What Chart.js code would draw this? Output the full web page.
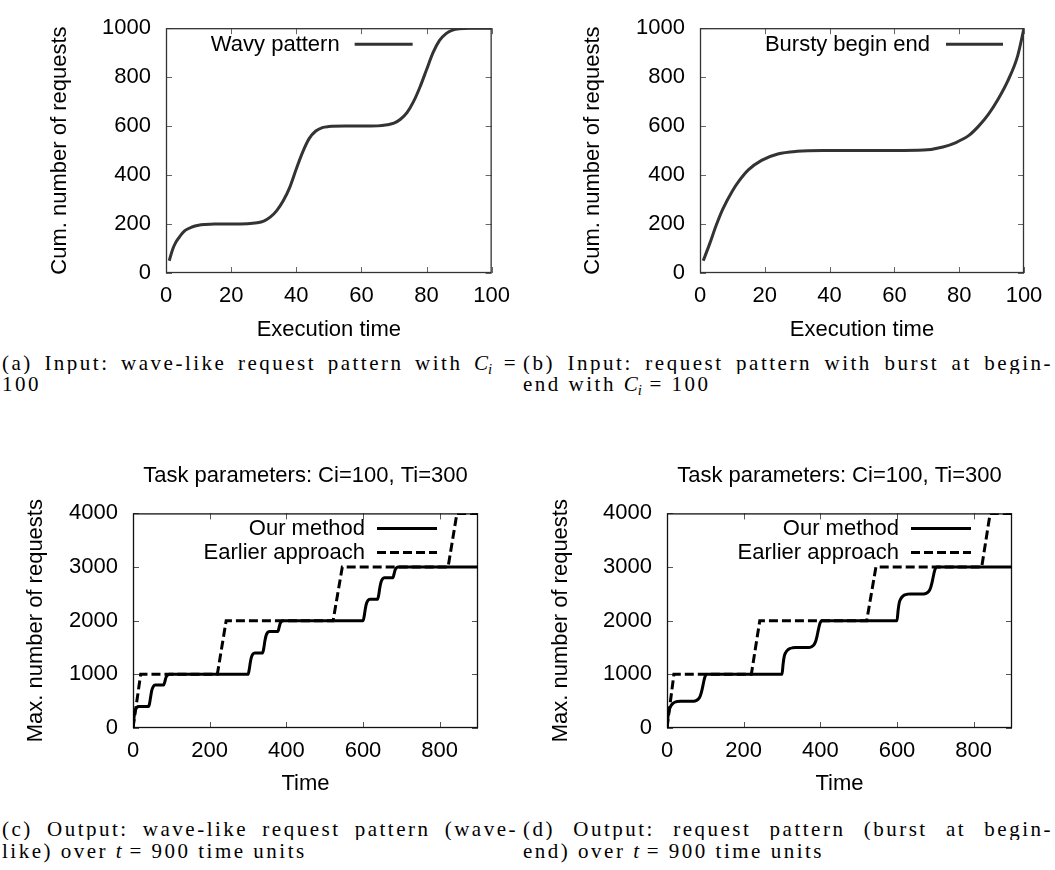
<!DOCTYPE html>
<html><head><meta charset="utf-8">
<script src="https://cdn.jsdelivr.net/npm/chart.js@4/dist/chart.umd.min.js"></script>
<style>
body{margin:0;background:#fff;width:1055px;height:870px;position:relative;overflow:hidden;}
canvas{position:absolute;}
.cap{position:absolute;font-family:"Liberation Serif","Times New Roman",serif;font-size:21px;line-height:22px;height:22px;color:#000;letter-spacing:2.5px;white-space:nowrap;}
.just{text-align:justify;text-align-last:justify;white-space:normal;overflow:hidden;}
.cap i{letter-spacing:0;}
.cap sub{font-size:70%;vertical-align:-0.3em;line-height:0;font-style:italic;}
</style></head><body>
<canvas id="ca" width="520" height="345" style="left:0;top:0;width:520px;height:345px"></canvas>
<canvas id="cb" width="528" height="345" style="left:527px;top:0;width:528px;height:345px"></canvas>
<canvas id="cc" width="520" height="365" style="left:0;top:440px;width:520px;height:365px"></canvas>
<canvas id="cd" width="528" height="365" style="left:527px;top:440px;width:528px;height:365px"></canvas>

<div class="cap just" style="left:2px;top:352px;width:516px">(a) Input: wave-like request pattern with <i>C<sub>i</sub></i> =</div>
<div class="cap" style="left:2px;top:373px">100</div>
<div class="cap just" style="left:523px;top:352px;width:530px">(b) Input: request pattern with burst at begin-</div>
<div class="cap" style="left:523px;top:373px">end with <i>C<sub>i</sub></i> = 100</div>
<div class="cap just" style="left:2px;top:818px;width:516px">(c) Output: wave-like request pattern (wave-</div>
<div class="cap" style="left:2px;top:840px">like) over <i>t</i> = 900 time units</div>
<div class="cap just" style="left:523px;top:818px;width:530px">(d) Output: request pattern (burst at begin-</div>
<div class="cap" style="left:523px;top:840px">end) over <i>t</i> = 900 time units</div>

<script>
// ---- data ----
const wavyTime = [1,2,3,4,5,6,8,10,12,15,20,25,28,30,32,34,36,38,40,42,44,46,48,50,55,60,65,68,70,72,74,76,78,80,82,84,86,88,90,93,96,100];
const wavyRequests = [50,95,125,145,162,175,188,195,198,200,200,201,205,212,228,255,295,350,425,495,550,580,594,598,600,600,601,606,612,628,655,700,760,830,900,950,978,992,998,1000,1000,1000];

const burstyTime = [1,3,5,7,10,12,15,19,24,30,38,50,60,69,75,79,83,86,89,92,95,98,100];
const burstyRequests = [50,120,195,260,335,375,422,460,486,497,500,500,500,502,515,533,562,600,648,710,785,885,1000];

const waveOurTime = [0,2,4,7,10,15,40,43,46,49,53,58,80,83,86,90,95,300,303,306,309,313,318,338,341,344,347,351,356,378,381,384,388,392,600,603,606,609,613,618,638,641,644,647,651,656,678,681,684,688,692,900];
const waveOurRequests = [0,150,270,350,385,400,400,450,580,700,775,800,800,860,940,985,1000,1000,1080,1220,1320,1380,1400,1400,1480,1620,1720,1780,1800,1800,1870,1950,1990,2000,2000,2080,2220,2320,2380,2400,2400,2480,2620,2720,2780,2800,2800,2870,2950,2990,3000,3000];
const waveEarlierTime = [0,20,220,243,522,546,822,845,900];
const waveEarlierRequests = [0,1000,1000,2000,2000,3000,3000,4000,4000];

const burstOurTime = [0,3,6,10,15,20,28,35,70,76,82,87,91,94,97,100,104,300,303,306,310,315,320,328,335,370,376,382,387,391,394,397,400,404,600,603,606,610,615,620,628,635,670,676,682,687,691,694,697,700,704,900];
const burstOurRequests = [0,230,340,410,455,480,495,500,500,510,540,600,700,800,900,970,1000,1000,1200,1340,1410,1455,1480,1495,1500,1500,1510,1540,1600,1700,1800,1900,1970,2000,2000,2200,2340,2410,2455,2480,2495,2500,2500,2510,2540,2600,2700,2800,2900,2970,3000,3000];
const burstEarlierTime = [0,18,220,242,521,545,821,843,900];
const burstEarlierRequests = [0,1000,1000,2000,2000,3000,3000,4000,4000];

const inputTimeTicks = [0,20,40,60,80,100];
const inputRequestTicks = [0,200,400,600,800,1000];
const outputTimeTicks = [0,200,400,600,800];
const outputRequestTicks = [0,1000,2000,3000,4000];

const outputTitle = 'Task parameters: Ci=100, Ti=300';

// ---- helpers ----
const SANS = '"Liberation Sans", Arial, Helvetica, sans-serif';
const pts = (xs, ys) => xs.map((x, i) => ({x, y: ys[i]}));

const framePlugin = {
  id: 'gpFrame',
  beforeDatasetsDraw(chart, args, o) {
    const {ctx, chartArea: a, scales: {x, y}} = chart;
    const L = 6;
    ctx.save();
    ctx.strokeStyle = o.tickColor; ctx.lineWidth = 1;
    ctx.beginPath();
    x.ticks.forEach(t => {
      const px = Math.round(x.getPixelForValue(t.value)) + 0.5;
      ctx.moveTo(px, a.bottom); ctx.lineTo(px, a.bottom - L);
      ctx.moveTo(px, a.top); ctx.lineTo(px, a.top + L);
    });
    y.ticks.forEach(t => {
      const py = Math.round(y.getPixelForValue(t.value)) + 0.5;
      ctx.moveTo(a.left, py); ctx.lineTo(a.left + L, py);
      ctx.moveTo(a.right, py); ctx.lineTo(a.right - L, py);
    });
    ctx.stroke();
    ctx.strokeStyle = o.borderColor; ctx.lineWidth = 1.3;
    ctx.strokeRect(a.left + 0.5, a.top + 0.5, a.right - a.left - 1, a.bottom - a.top - 1);
    ctx.restore();
  }
};

const keyPlugin = {
  id: 'gpKey',
  afterDatasetsDraw(chart, args, o) {
    const {ctx, chartArea: a} = chart;
    ctx.save();
    ctx.font = '22px ' + SANS;
    ctx.textAlign = 'right'; ctx.textBaseline = 'middle';
    chart.data.datasets.forEach((ds, i) => {
      const yy = a.top + o.firstRow + i * o.rowGap;
      const x1 = a.right - o.rightGap, x0 = x1 - o.sampleLen;
      ctx.fillStyle = '#000';
      ctx.fillText(ds.label, x0 - o.textGap, yy + 1);
      ctx.strokeStyle = ds.borderColor; ctx.lineWidth = ds.borderWidth;
      ctx.setLineDash(ds.borderDash || []);
      ctx.beginPath(); ctx.moveTo(x0, yy); ctx.lineTo(x1, yy); ctx.stroke();
    });
    ctx.restore();
  }
};

function axis(p) {
  return {
    type: 'linear', min: p.min, max: p.max,
    afterBuildTicks: s => { s.ticks = p.ticks.map(v => ({value: v})); },
    afterFit: s => { if (p.h) s.height = p.size; else s.width = p.size; },
    grid: {display: false, drawTicks: false},
    border: {display: false},
    ticks: {color: '#000', font: {family: SANS, size: 22}, padding: p.tickPad, maxRotation: 0, minRotation: 0, autoSkip: false,
            callback: v => String(v)},
    title: {display: true, text: p.title, color: '#000', font: {family: SANS, size: 22}, padding: p.titlePad}
  };
}

function build(id, c) {
  return new Chart(document.getElementById(id), {
    type: 'line',
    data: {datasets: c.datasets},
    options: {
      responsive: false, animation: false, devicePixelRatio: 1,
      layout: {padding: c.pad},
      elements: {point: {radius: 0}},
      plugins: {
        legend: {display: false}, tooltip: {enabled: false},
        title: c.title || {display: false},
        gpFrame: {tickColor: c.tickColor, borderColor: c.borderColor},
        gpKey: c.key
      },
      scales: {x: axis(c.x), y: axis(c.y)}
    },
    plugins: [framePlugin, keyPlugin]
  });
}

const inputLine = {borderColor: '#333333', borderWidth: 3, pointRadius: 0, fill: false, cubicInterpolationMode: 'monotone'};
const ourLine = {borderColor: '#000', borderWidth: 3, pointRadius: 0, fill: false, cubicInterpolationMode: 'monotone'};
const earlierLine = {borderColor: '#000', borderWidth: 3, pointRadius: 0, fill: false, tension: 0, borderDash: [9, 4]};

// (a)
build('ca', {
  pad: {left: 0, right: 26, top: 16, bottom: 0},
  tickColor: '#666', borderColor: '#333',
  datasets: [Object.assign({label: 'Wavy pattern', data: pts(wavyTime, wavyRequests)}, inputLine)],
  key: {firstRow: 16, rowGap: 24, rightGap: 79, sampleLen: 58, textGap: 15},
  x: {min: 0, max: 100, ticks: inputTimeTicks, h: true, size: 72, tickPad: 10, title: 'Execution time', titlePad: {top: 0, bottom: 2}},
  y: {min: 0, max: 1000, ticks: inputRequestTicks, size: 166, tickPad: 15, title: 'Cum. number of requests', titlePad: {top: 47, bottom: 0}}
});
// (b)
build('cb', {
  pad: {left: 0, right: 31, top: 16, bottom: 0},
  tickColor: '#666', borderColor: '#333',
  datasets: [Object.assign({label: 'Bursty begin end', data: pts(burstyTime, burstyRequests)}, inputLine)],
  key: {firstRow: 16, rowGap: 24, rightGap: 21, sampleLen: 57, textGap: 16},
  x: {min: 0, max: 100, ticks: inputTimeTicks, h: true, size: 72, tickPad: 10, title: 'Execution time', titlePad: {top: 0, bottom: 2}},
  y: {min: 0, max: 1000, ticks: inputRequestTicks, size: 173, tickPad: 15, title: 'Cum. number of requests', titlePad: {top: 53, bottom: 0}}
});
const outTitle = {display: true, text: outputTitle, color: '#000', fullSize: false, font: {family: SANS, size: 22, weight: 'normal'}, padding: {top: 23, bottom: 24}};
// (c)
build('cc', {
  pad: {left: 0, right: 42, top: 0, bottom: 0},
  tickColor: '#555', borderColor: '#111',
  title: outTitle,
  datasets: [
    Object.assign({label: 'Our method', data: pts(waveOurTime, waveOurRequests)}, ourLine),
    Object.assign({label: 'Earlier approach', data: pts(waveEarlierTime, waveEarlierRequests)}, earlierLine)
  ],
  key: {firstRow: 15, rowGap: 24, rightGap: 41, sampleLen: 60, textGap: 12},
  x: {min: 0, max: 900, ticks: outputTimeTicks, h: true, size: 77, tickPad: 10, title: 'Time', titlePad: {top: 0, bottom: 8}},
  y: {min: 0, max: 4000, ticks: outputRequestTicks, size: 133, tickPad: 15, title: 'Max. number of requests', titlePad: {top: 23, bottom: 0}}
});
// (d)
build('cd', {
  pad: {left: 0, right: 43, top: 0, bottom: 0},
  tickColor: '#555', borderColor: '#111',
  title: outTitle,
  datasets: [
    Object.assign({label: 'Our method', data: pts(burstOurTime, burstOurRequests)}, ourLine),
    Object.assign({label: 'Earlier approach', data: pts(burstEarlierTime, burstEarlierRequests)}, earlierLine)
  ],
  key: {firstRow: 15, rowGap: 24, rightGap: 41, sampleLen: 60, textGap: 12},
  x: {min: 0, max: 900, ticks: outputTimeTicks, h: true, size: 77, tickPad: 10, title: 'Time', titlePad: {top: 0, bottom: 8}},
  y: {min: 0, max: 4000, ticks: outputRequestTicks, size: 140, tickPad: 15, title: 'Max. number of requests', titlePad: {top: 21, bottom: 0}}
});
</script>
</body></html>
